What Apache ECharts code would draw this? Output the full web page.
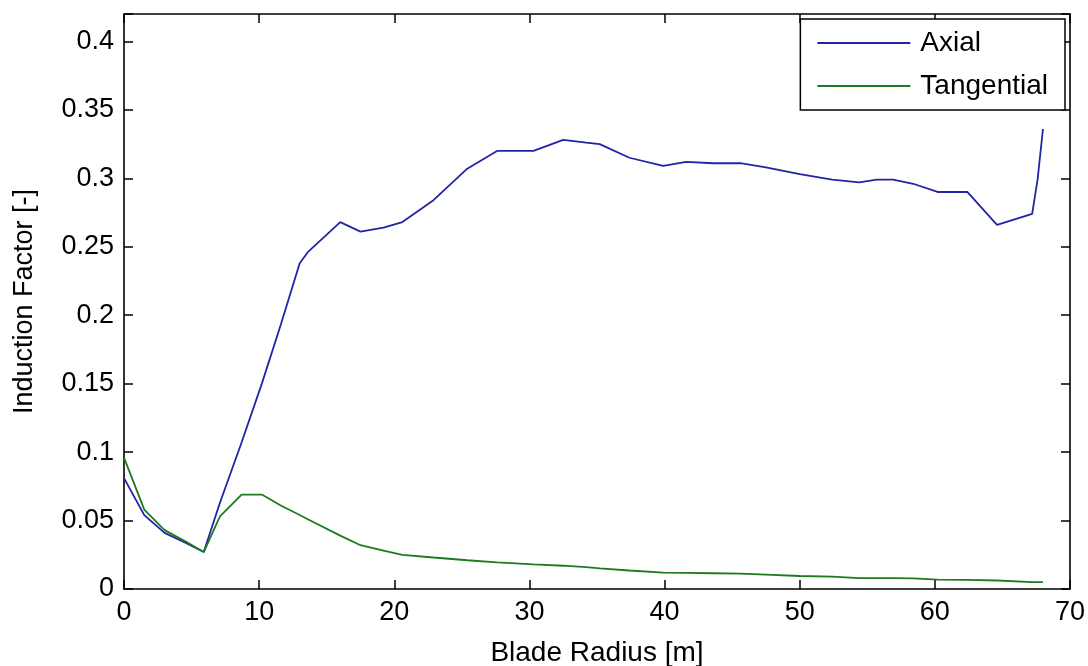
<!DOCTYPE html>
<html>
<head>
<meta charset="utf-8">
<title>Induction Factor</title>
<script src="https://cdn.jsdelivr.net/npm/echarts@6/dist/echarts.min.js"></script>
<style>
  html, body { margin: 0; padding: 0; background: #fff; }
  #chart { width: 1088px; height: 666px; }
</style>
</head>
<body>
<div id="chart"></div>
<script>
// blade stations [m]
var radius = [0, 1.5, 3, 4.5, 5.9, 7.1, 8.7, 10.2, 11.6, 13.0, 13.6, 16.0, 17.5, 19.2, 20.6,
  22.9, 25.4, 27.6, 30.3, 32.5, 34.2, 35.2, 37.4, 39.9, 41.6, 43.6, 45.6, 47.5, 50.0,
  52.4, 54.4, 55.7, 56.9, 58.4, 60.2, 62.4, 64.6, 67.2, 67.6, 68.0];

var axial = [0.081, 0.054, 0.041, 0.034, 0.027, 0.063, 0.107, 0.150, 0.193, 0.238, 0.246,
  0.268, 0.261, 0.264, 0.268, 0.284, 0.307, 0.320, 0.320, 0.328, 0.326, 0.325, 0.315,
  0.309, 0.312, 0.311, 0.311, 0.308, 0.303, 0.299, 0.297, 0.299, 0.299, 0.296, 0.290,
  0.290, 0.266, 0.274, 0.299, 0.336];

var tangential = [0.096, 0.058, 0.043, 0.035, 0.027, 0.053, 0.069, 0.069, 0.061, 0.054,
  0.051, 0.039, 0.032, 0.028, 0.025, 0.023, 0.021, 0.0195, 0.018, 0.017, 0.016, 0.015,
  0.0135, 0.012, 0.0118, 0.0115, 0.0112, 0.0105, 0.0095, 0.009, 0.008, 0.008, 0.008,
  0.0078, 0.0068, 0.0066, 0.0062, 0.005, 0.005, 0.005];

var seriesNames = ['Axial', 'Tangential'];
var seriesColors = ['#2323a6', '#1f7a1f'];

function pairs(ys) {
  var out = [];
  for (var i = 0; i < radius.length; i++) {
    out.push([radius[i], ys[i]]);
  }
  return out;
}

var font = 'Liberation Sans, Arial, sans-serif';
var axisLine = { show: true, onZero: false, lineStyle: { color: '#000', width: 1.6 } };
var axisTick = { show: true, inside: true, length: 9, lineStyle: { color: '#000', width: 1.5 } };

var option = {
  animation: false,
  backgroundColor: '#fff',
  grid: { left: 124, right: 18, top: 14, bottom: 77, containLabel: false, outerBoundsMode: 'none' },
  legend: {
    data: seriesNames,
    orient: 'vertical',
    right: 23,
    top: 19,
    icon: 'rect',
    itemWidth: 93,
    itemHeight: 2,
    itemGap: 15,
    padding: [10, 17, 10, 17],
    backgroundColor: '#fff',
    borderColor: '#000',
    borderWidth: 1.5,
    borderRadius: 0,
    textStyle: { fontFamily: font, fontSize: 28, color: '#000', padding: [0, 0, 0, 5] }
  },
  xAxis: [
    {
      type: 'value',
      min: 0,
      max: 70,
      interval: 10,
      name: 'Blade Radius [m]',
      nameLocation: 'middle',
      nameGap: 50,
      nameTextStyle: { fontFamily: font, fontSize: 28, color: '#000' },
      axisLine: axisLine,
      axisTick: axisTick,
      splitLine: { show: false },
      axisLabel: { fontFamily: font, fontSize: 27, color: '#000', margin: 10 }
    },
    {
      type: 'value',
      position: 'top',
      min: 0,
      max: 70,
      interval: 10,
      axisLine: axisLine,
      axisTick: axisTick,
      splitLine: { show: false },
      axisLabel: { show: false }
    }
  ],
  yAxis: [
    {
      type: 'value',
      min: 0,
      max: 0.42,
      interval: 0.05,
      name: 'Induction Factor [-]',
      nameLocation: 'middle',
      nameGap: 86,
      nameRotate: 90,
      nameTextStyle: { fontFamily: font, fontSize: 27, color: '#000' },
      axisLine: axisLine,
      axisTick: axisTick,
      splitLine: { show: false },
      axisLabel: {
        fontFamily: font, fontSize: 27, color: '#000', margin: 10,
        formatter: function (v) {
          if (v > 0.41) return '';
          return String(Math.round(v * 100) / 100);
        }
      }
    },
    {
      type: 'value',
      position: 'right',
      min: 0,
      max: 0.42,
      interval: 0.05,
      axisLine: axisLine,
      axisTick: axisTick,
      splitLine: { show: false },
      axisLabel: { show: false }
    }
  ],
  series: [
    {
      name: seriesNames[0],
      type: 'line',
      data: pairs(axial),
      showSymbol: false,
      symbol: 'none',
      color: seriesColors[0],
      lineStyle: { color: seriesColors[0], width: 1.8 }
    },
    {
      name: seriesNames[1],
      type: 'line',
      data: pairs(tangential),
      showSymbol: false,
      symbol: 'none',
      color: seriesColors[1],
      lineStyle: { color: seriesColors[1], width: 1.8 }
    }
  ]
};

var chart = echarts.init(document.getElementById('chart'));
chart.setOption(option);
</script>
</body>
</html>
